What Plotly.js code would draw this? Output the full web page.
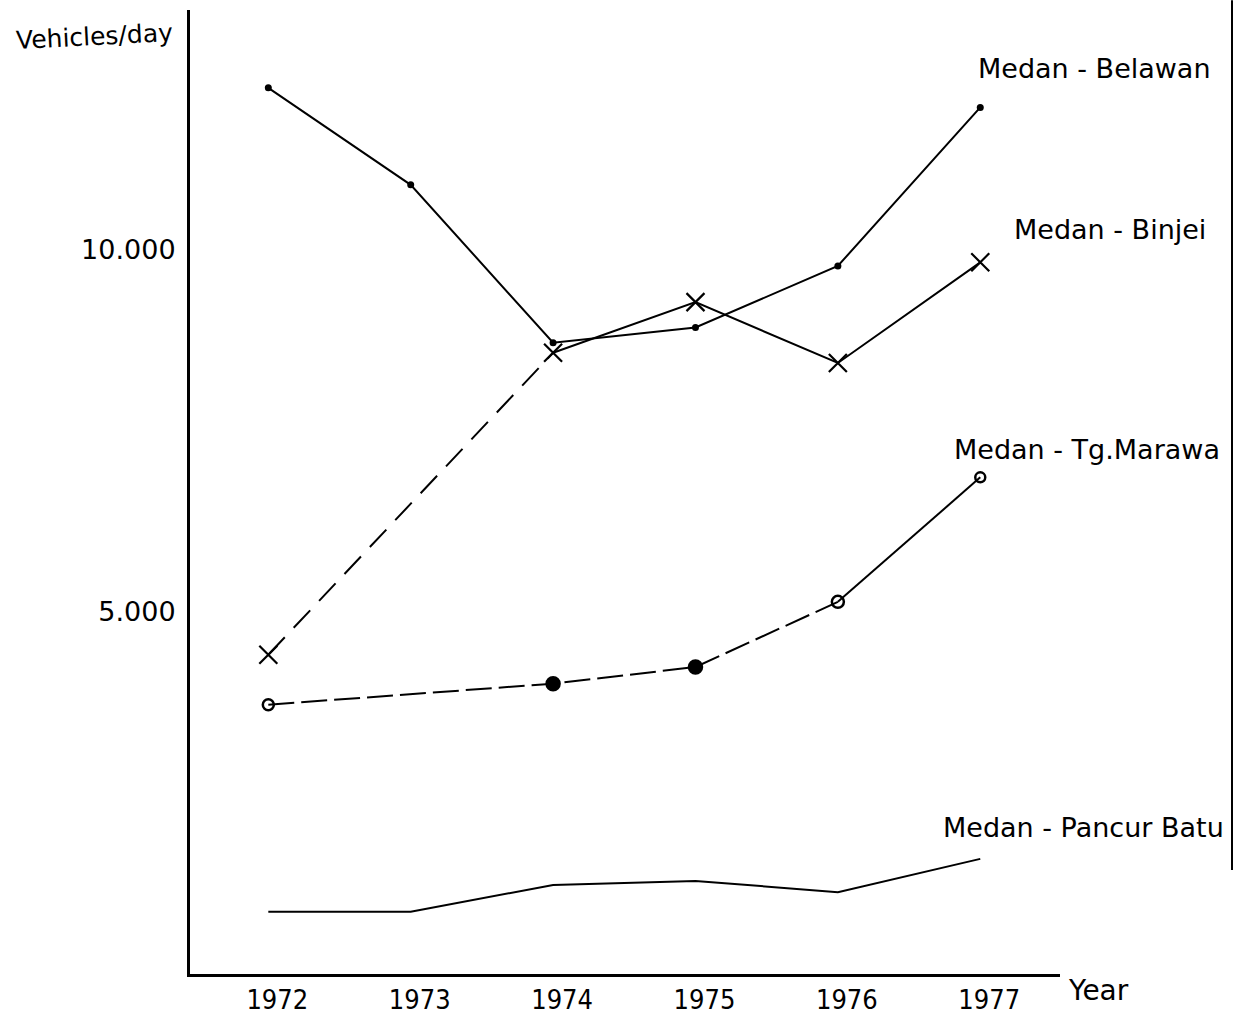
<!DOCTYPE html>
<html><head><meta charset="utf-8">
<script src="https://cdn.plot.ly/plotly-3.0.1.min.js"></script>
<style>html,body{margin:0;padding:0;background:#fff}#chart{width:1235px;height:1018px}</style>
</head><body><div id="chart"></div>
<script>
const years = [1972, 1973, 1974, 1975, 1976, 1977];
const yearLabels = ["1972", "1973", "1974", "1975", "1976", "1977"];

const belawanYears = [1972, 1973, 1974, 1975, 1976, 1977];
const belawanValues = [12240, 10900, 8720, 8930, 9780, 11970];

const binjeiDashYears = [1972, 1974];
const binjeiDashValues = [4410, 8580];
const binjeiYears = [1974, 1975, 1976, 1977];
const binjeiValues = [8580, 9280, 8440, 9830];

const marawaDashYears = [1972, 1974, 1975, 1976];
const marawaDashValues = [3720, 4010, 4240, 5140];
const marawaSolidYears = [1976, 1977];
const marawaSolidValues = [5140, 6860];

const pancurYears = [1972, 1973, 1974, 1975, 1976, 1977];
const pancurValues = [860, 860, 1230, 1285, 1130, 1590];

const yTickVals = [5000, 10000];
const yTickText = ["5.000", "10.000"];

const seriesLabels = ["Medan - Belawan", "Medan - Binjei", "Medan - Tg.Marawa", "Medan - Pancur Batu"];

const black = "#000";
const traces = [
  {x: belawanYears, y: belawanValues, mode: "lines+markers",
   line: {color: black, width: 2}, marker: {color: black, size: 7, symbol: "circle", opacity: 1}},
  {x: binjeiDashYears, y: binjeiDashValues, mode: "lines",
   line: {color: black, width: 2, dash: "24px,13px"}},
  {x: binjeiYears, y: binjeiValues, mode: "lines",
   line: {color: black, width: 2}},
  {x: [1972].concat(binjeiYears), y: [binjeiDashValues[0]].concat(binjeiValues), mode: "markers",
   marker: {color: black, size: 18, symbol: "x-thin-open", opacity: 1, line: {color: black, width: 2.2}}},
  {x: marawaDashYears, y: marawaDashValues, mode: "lines",
   line: {color: black, width: 2, dash: "26px,7px"}},
  {x: marawaSolidYears, y: marawaSolidValues, mode: "lines",
   line: {color: black, width: 2}},
  {x: marawaDashYears.concat([1977]), y: marawaDashValues.concat([marawaSolidValues[1]]), mode: "markers",
   marker: {color: black, size: [11, 13, 13, 12, 10], opacity: 1,
            symbol: ["circle-open", "circle", "circle", "circle-open", "circle-open"],
            line: {color: black, width: 2.5}}},
  {x: pancurYears, y: pancurValues, mode: "lines",
   line: {color: black, width: 2}}
];

const fnt = "DejaVu Sans, Liberation Sans, sans-serif";
const labelPos = [
  {x: 1213, y: 68},
  {x: 1208, y: 230},
  {x: 1222, y: 450},
  {x: 1226, y: 827}
];
const annotations = seriesLabels.map((t, i) => ({
  text: t, xref: "paper", yref: "paper",
  x: (labelPos[i].x - 190) / 870, y: 1 - (labelPos[i].y - 10) / 964,
  xanchor: "right", yanchor: "middle", showarrow: false,
  font: {family: fnt, size: 27, color: black}
}));
annotations.push({text: "Vehicles/day", xref: "paper", yref: "paper",
  x: (176 - 190) / 870, y: 1 - (36 - 10) / 964, xanchor: "right", yanchor: "middle",
  showarrow: false, textangle: -3, font: {family: fnt, size: 25, color: black}});
annotations.push({text: "Year", xref: "paper", yref: "paper",
  x: (1066 - 190) / 870, y: 1 - (991 - 10) / 964, xanchor: "left", yanchor: "middle",
  showarrow: false, font: {family: fnt, size: 28, color: black}});

const layout = {
  width: 1235, height: 1018,
  margin: {l: 190, r: 175, t: 10, b: 44},
  paper_bgcolor: "#fff", plot_bgcolor: "#fff",
  showlegend: false,
  xaxis: {range: [1971.45, 1977.56], tickvals: years, ticktext: yearLabels,
          showgrid: false, zeroline: false, showline: true, linecolor: black, linewidth: 3,
          ticks: "", ticklabelshift: 9, ticklabelstandoff: 0,
          tickfont: {family: "DejaVu Sans Condensed, DejaVu Sans, sans-serif", size: 27, color: black}},
  yaxis: {range: [0, 13315], tickvals: yTickVals, ticktext: yTickText,
          showgrid: false, zeroline: false, showline: true, linecolor: black, linewidth: 3,
          ticks: "", ticklabelstandoff: 6,
          tickfont: {family: fnt, size: 27, color: black}},
  annotations: annotations,
  shapes: [{type: "line", xref: "paper", yref: "paper",
            x0: (1232 - 190) / 870, x1: (1232 - 190) / 870,
            y0: 1 - (870 - 10) / 964, y1: 1.01, line: {color: black, width: 2}}]
};

Plotly.newPlot("chart", traces, layout, {displayModeBar: false, staticPlot: true});
</script></body></html>
